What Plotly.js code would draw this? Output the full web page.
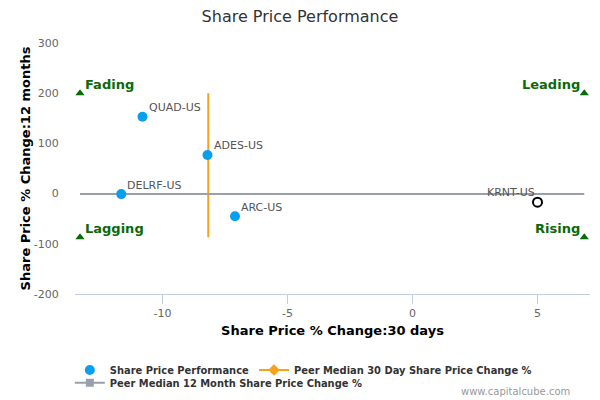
<!DOCTYPE html>
<html>
<head>
<meta charset="utf-8">
<script src="https://cdn.plot.ly/plotly-3.0.1.min.js"></script>
<style>
  html, body { margin: 0; padding: 0; background: #fff; }
  #chart { width: 600px; height: 400px; }
</style>
</head>
<body>
<div id="chart"></div>
<script>
// peers
const tickers = ['QUAD-US', 'ADES-US', 'DELRF-US', 'ARC-US'];
const change30 = [-10.8, -8.2, -11.65, -7.1];
const change12 = [153, 77, -1, -45];

// company in focus
const focusTicker = ['KRNT-US'];
const focus30 = [5.0];
const focus12 = [-17];

// peer medians
const median30 = -8.17;
const median12 = -1;

// quadrant corners
const quadNames = ['Fading', 'Leading', 'Lagging', 'Rising'];
const quadX = [-13.3, 6.87, -13.3, 6.87];
const quadY = [200, 200, -87, -87];

// axis ticks (plain hyphens like the original)
const xTicks = [-10, -5, 0, 5];
const xTickText = ['-10', '-5', '0', '5'];
const yTicks = [-200, -100, 0, 100, 200, 300];
const yTickText = ['-200', '-100', '0', '100', '200', '300'];

const FONT = 'DejaVu Sans, sans-serif';
const LEGEND_FONT = 'DejaVu Sans Condensed, DejaVu Sans, sans-serif';
const tickFont = { family: FONT, size: 11, color: '#666666' };
const green = '#0a6a0a';

const data = [
  // peer median 30 day (vertical)
  {
    x: [median30, median30],
    y: [quadY[0], quadY[2]],
    mode: 'lines',
    line: { color: '#f7a21b', width: 2 },
    showlegend: false,
    hoverinfo: 'skip'
  },
  // peer median 12 month (horizontal)
  {
    x: [quadX[0], quadX[1]],
    y: [median12, median12],
    mode: 'lines',
    line: { color: '#9aa0ab', width: 2 },
    showlegend: false,
    hoverinfo: 'skip'
  },
  // quadrant corner triangles
  {
    x: quadX,
    y: quadY,
    mode: 'markers',
    marker: { symbol: 'triangle-up', size: 8, color: green },
    showlegend: false
  },
  {
    name: 'Share Price Performance',
    x: change30,
    y: change12,
    mode: 'markers',
    marker: { color: '#0a9fee', size: 10 },
    legendrank: 1
  },
  {
    x: focus30,
    y: focus12,
    mode: 'markers',
    marker: { color: '#ffffff', size: 9, line: { color: '#000000', width: 2 } },
    showlegend: false
  },
  // legend entries for the median lines
  {
    name: 'Peer Median 30 Day Share Price Change %',
    x: [null], y: [null],
    mode: 'lines+markers',
    line: { color: '#f7a21b', width: 2 },
    marker: { symbol: 'diamond', size: 9, color: '#f7a21b' },
    legendrank: 2
  },
  {
    name: 'Peer Median 12 Month Share Price Change %',
    x: [null], y: [null],
    mode: 'lines+markers',
    line: { color: '#9aa0ab', width: 2 },
    marker: { symbol: 'square', size: 8, color: '#9aa0ab' },
    legend: 'legend2'
  }
];

// point labels
const annotations = [];
tickers.forEach((t, i) => {
  annotations.push({
    x: change30[i], y: change12[i], text: t,
    xanchor: 'left', yanchor: 'middle', xshift: 4, yshift: 9,
    showarrow: false,
    font: { family: FONT, size: 11, color: '#555555' }
  });
});
focusTicker.forEach((t, i) => {
  annotations.push({
    x: focus30[i], y: focus12[i], text: t,
    xanchor: 'right', yanchor: 'middle', xshift: -1, yshift: 10,
    showarrow: false,
    font: { family: FONT, size: 11, color: '#555555' }
  });
});
// quadrant names
quadNames.forEach((q, i) => {
  const left = i % 2 === 0;
  annotations.push({
    x: quadX[i], y: quadY[i], text: '<b>' + q + '</b>',
    xanchor: left ? 'left' : 'right', yanchor: 'middle',
    xshift: left ? 3 : -2, yshift: 9,
    showarrow: false,
    font: { family: FONT, size: 13, color: green }
  });
});
annotations.push({
  text: 'www.capitalcube.com',
  xref: 'paper', yref: 'paper',
  x: 0.965, y: -0.39,
  xanchor: 'right', yanchor: 'middle',
  showarrow: false,
  font: { family: FONT, size: 10, color: '#999999' }
});

const legendFont = { family: LEGEND_FONT, size: 11, color: '#333333', weight: 'bold' };

const layout = {
  width: 600,
  height: 400,
  paper_bgcolor: '#ffffff',
  plot_bgcolor: '#ffffff',
  margin: { l: 75, r: 10, t: 43, b: 106, autoexpand: false },
  font: { family: FONT, color: '#333333' },
  title: {
    text: 'Share Price Performance',
    font: { family: FONT, size: 16, color: '#333333' },
    x: 0.5,
    xanchor: 'center',
    y: 0.96,
    yanchor: 'middle'
  },
  xaxis: {
    range: [-13.5, 7.1],
    tickvals: xTicks,
    ticktext: xTickText,
    showgrid: false,
    zeroline: false,
    showline: true,
    linecolor: '#c0d0e0',
    linewidth: 1,
    ticks: 'outside',
    ticklen: 9,
    tickcolor: '#c0d0e0',
    tickfont: tickFont,
    title: {
      text: 'Share Price % Change:30 days',
      font: { family: FONT, size: 13, color: '#000000', weight: 'bold' },
      standoff: 6
    }
  },
  yaxis: {
    range: [-200, 300],
    tickvals: yTicks,
    ticktext: yTickText,
    showgrid: false,
    zeroline: false,
    showline: false,
    ticks: 'outside',
    ticklen: 13,
    tickcolor: 'rgba(0,0,0,0)',
    tickfont: tickFont,
    title: {
      text: 'Share Price % Change:12 months',
      font: { family: FONT, size: 13, color: '#000000', weight: 'bold' },
      standoff: 0
    }
  },
  showlegend: true,
  legend: {
    orientation: 'h',
    x: -0.01,
    xanchor: 'left',
    y: -0.245,
    yanchor: 'top',
    font: legendFont,
    bgcolor: 'rgba(0,0,0,0)'
  },
  legend2: {
    orientation: 'h',
    x: -0.01,
    xanchor: 'left',
    y: -0.296,
    yanchor: 'top',
    font: legendFont,
    bgcolor: 'rgba(0,0,0,0)'
  },
  annotations: annotations
};

Plotly.newPlot('chart', data, layout, { displayModeBar: false, staticPlot: true });
</script>
</body>
</html>
